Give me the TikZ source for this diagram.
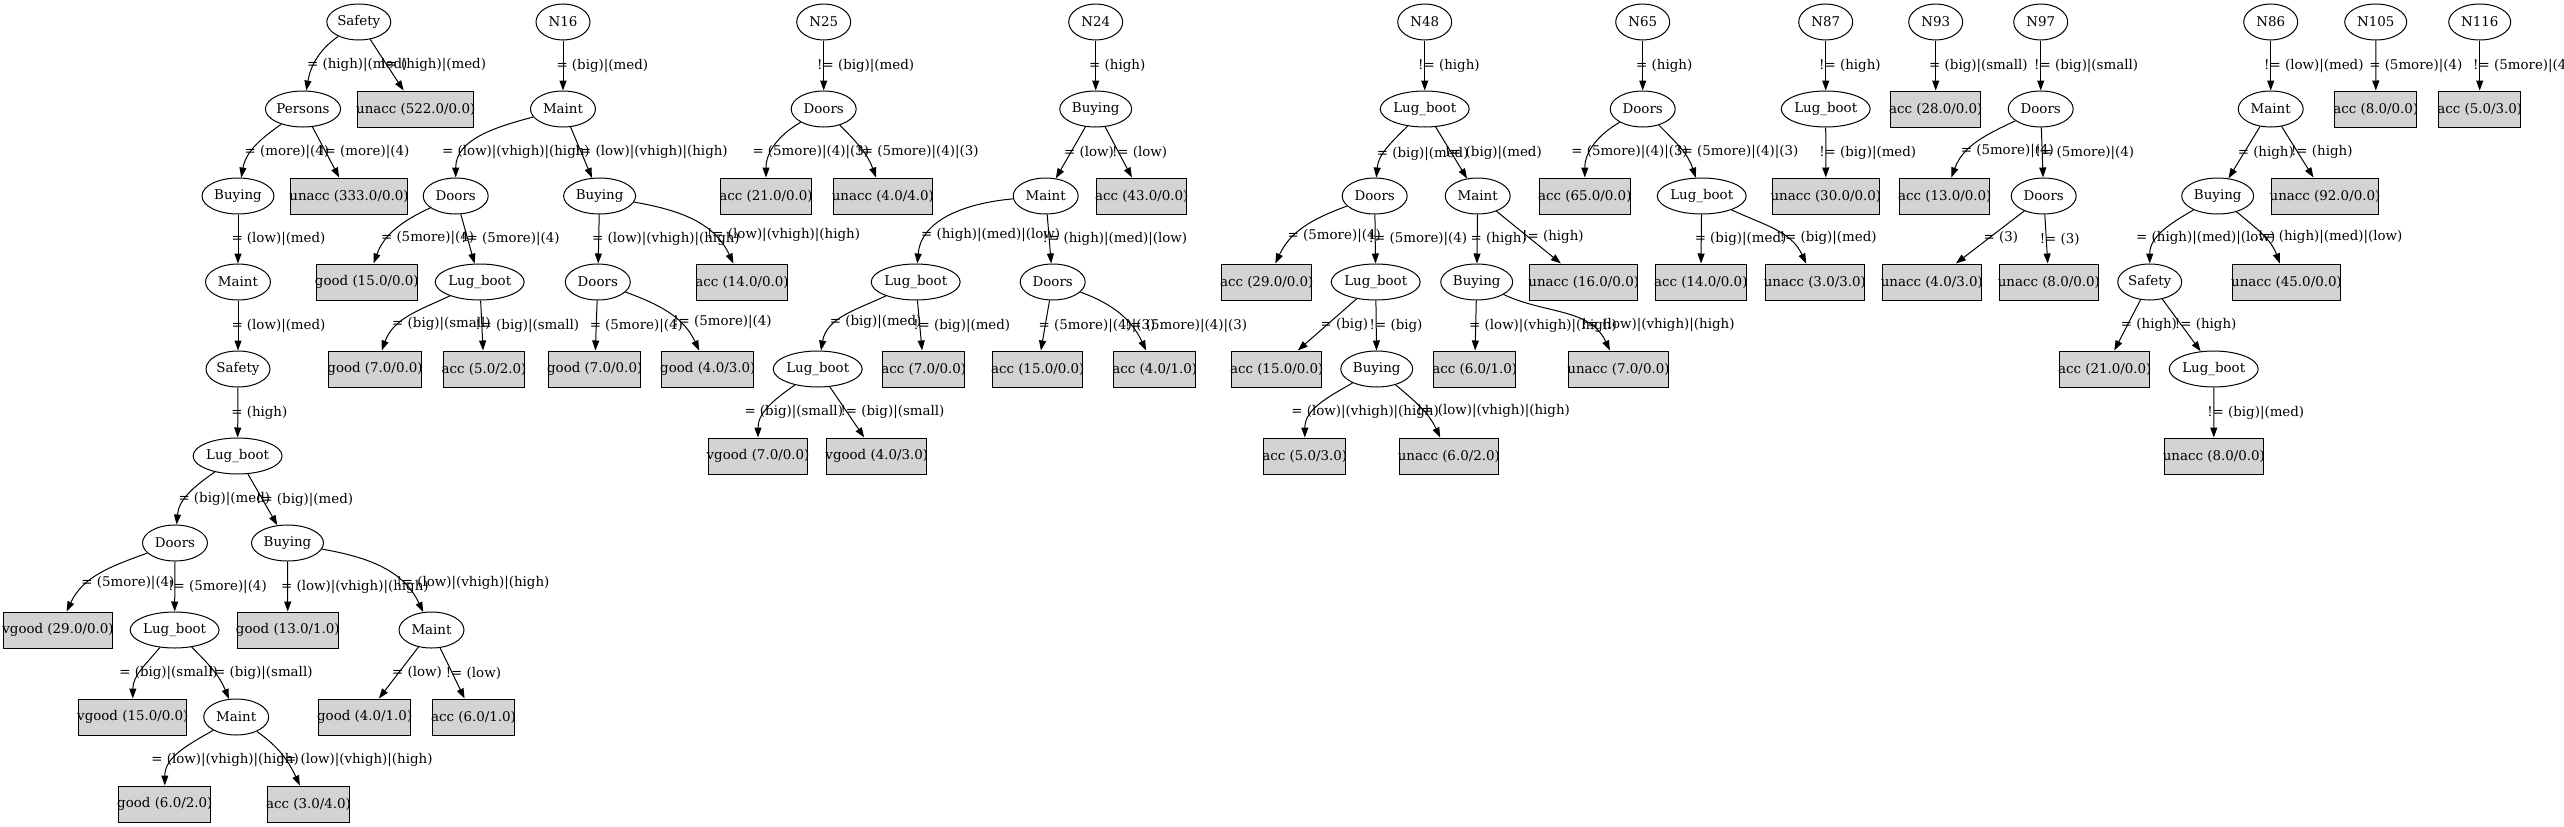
\documentclass[tikz,border=0pt]{standalone}
\usepackage{fontspec}
\setmainfont{DejaVu Serif}
\usetikzlibrary{arrows.meta,shapes.geometric}
\definecolor{cLeaf}{HTML}{D3D3D3}
\tikzset{
  split/.style={ellipse,draw,line width=1pt,inner sep=0pt,
                minimum height=36pt,minimum width=#1},
  split/.default=65pt,
  leaf/.style={rectangle,draw,line width=1pt,fill=cLeaf,
               inner xsep=-1.5pt,inner ysep=0pt,minimum height=36pt},
  branch/.style={-{Triangle[length=10pt,width=7pt]},line width=1pt},
  cond/.style={anchor=west,inner sep=0pt,xshift=-7pt},
  endcond/.style={cond,pos=1,yshift=25.5pt,xshift=-7pt},
}

\begin{document}
\begin{tikzpicture}[x=1pt,y=1pt,font=\fontsize{13.4pt}{16pt}\selectfont]
  \path[use as bounding box,fill=white] (0,0) rectangle (2564,-827);

  % tree rooted at Safety
  \node[split=64pt] (a0) at (358.8,-22) {Safety};
  \node[split=75pt] (a1) at (303,-109) {Persons};
  \node[leaf] (a1u) at (415.7,-109) {unacc (522.0/0.0)};
  \node[split=72pt] (a2) at (238,-196) {Buying};
  \node[leaf] (a2u) at (349,-196) {unacc (333.0/0.0)};
  \node[split] (a3) at (238,-282) {Maint};
  \node[split=64pt] (a4) at (238,-369) {Safety};
  \node[split=88pt] (a5) at (237.6,-456) {Lug\_boot};
  \node[split] (a6) at (175,-543) {Doors};
  \node[split=72pt] (a6b) at (287.5,-543) {Buying};
  \node[leaf] (a7v) at (58,-630) {vgood (29.0/0.0)};
  \node[split=88pt] (a7) at (174.6,-630) {Lug\_boot};
  \node[leaf] (a7g) at (287.8,-630) {good (13.0/1.0)};
  \node[split] (a7m) at (431.5,-630) {Maint};
  \node[leaf] (a8v) at (132.8,-717) {vgood (15.0/0.0)};
  \node[split] (a8) at (236.2,-717) {Maint};
  \node[leaf] (a8g) at (364.7,-717) {good (4.0/1.0)};
  \node[leaf] (a8a) at (473.5,-717) {acc (6.0/1.0)};
  \node[leaf] (a9g) at (164.8,-804) {good (6.0/2.0)};
  \node[leaf] (a9a) at (308.5,-804) {acc (3.0/4.0)};

  \draw[branch] (a0) to[out=-145,in=80] node[cond,pos=.6]{= (high)|(med)} (a1);
  \draw[branch] (a0) -- node[cond]{!= (high)|(med)} (a1u);
  \draw[branch] (a1) to[out=-145,in=80] node[cond,pos=.6]{= (more)|(4)} (a2);
  \draw[branch] (a1) -- node[cond]{!= (more)|(4)} (a2u);
  \draw[branch] (a2) -- node[cond]{= (low)|(med)} (a3);
  \draw[branch] (a3) -- node[cond]{= (low)|(med)} (a4);
  \draw[branch] (a4) -- node[cond]{= (high)} (a5);
  \draw[branch] (a5) to[out=-145,in=85] node[cond,pos=.6]{= (big)|(med)} (a6);
  \draw[branch] (a5) -- node[cond]{!= (big)|(med)} (a6b);
  \draw[branch] (a6) to[out=-160,in=65] node[cond,pos=.65]{= (5more)|(4)} (a7v);
  \draw[branch] (a6) -- node[cond]{!= (5more)|(4)} (a7);
  \draw[branch] (a6b) -- node[cond]{= (low)|(vhigh)|(high)} (a7g);
  \draw[branch] (a6b) to[out=-10,in=115] node[cond,pos=.72]{!= (low)|(vhigh)|(high)} (a7m);
  \draw[branch] (a7) to[out=-130,in=90] node[endcond]{= (big)|(small)} (a8v);
  \draw[branch] (a7) to[out=-45,in=112] node[cond,pos=.55]{!= (big)|(small)} (a8);
  \draw[branch] (a7m) -- node[cond]{= (low)} (a8g);
  \draw[branch] (a7m) -- node[cond]{!= (low)} (a8a);
  \draw[branch] (a8) to[out=-150,in=90] node[endcond]{= (low)|(vhigh)|(high)} (a9g);
  \draw[branch] (a8) to[out=-35,in=115] node[cond,pos=.6]{!= (low)|(vhigh)|(high)} (a9a);

  % N16
  \node[split=54pt] (b0) at (563,-22) {N16};
  \node[split] (b1) at (563,-109) {Maint};
  \node[split] (b2) at (455.7,-196) {Doors};
  \node[split=72pt] (b2b) at (599.6,-196) {Buying};
  \node[leaf] (b3g) at (366.8,-282) {good (15.0/0.0)};
  \node[split=88pt] (b3) at (479.7,-282) {Lug\_boot};
  \node[split] (b3d) at (597.8,-282) {Doors};
  \node[leaf] (b3a) at (742,-282) {acc (14.0/0.0)};
  \node[leaf] (b4g) at (375,-369) {good (7.0/0.0)};
  \node[leaf] (b4a) at (484,-369) {acc (5.0/2.0)};
  \node[leaf] (b4h) at (594.7,-369) {good (7.0/0.0)};
  \node[leaf] (b4k) at (707.8,-369) {good (4.0/3.0)};

  \draw[branch] (b0) -- node[cond]{= (big)|(med)} (b1);
  \draw[branch] (b1) to[out=-165,in=90] node[endcond]{= (low)|(vhigh)|(high)} (b2);
  \draw[branch] (b1) -- node[cond]{!= (low)|(vhigh)|(high)} (b2b);
  \draw[branch] (b2) to[out=-155,in=70] node[cond,pos=.65]{= (5more)|(4)} (b3g);
  \draw[branch] (b2) -- node[cond]{!= (5more)|(4)} (b3);
  \draw[branch] (b2b) -- node[cond]{= (low)|(vhigh)|(high)} (b3d);
  \draw[branch] (b2b) to[out=-10,in=115] node[cond,pos=.72]{!= (low)|(vhigh)|(high)} (b3a);
  \draw[branch] (b3) to[out=-155,in=70] node[cond,pos=.65]{= (big)|(small)} (b4g);
  \draw[branch] (b3) -- node[cond]{!= (big)|(small)} (b4a);
  \draw[branch] (b3d) -- node[cond]{= (5more)|(4)} (b4h);
  \draw[branch] (b3d) to[out=-20,in=115] node[cond,pos=.65]{!= (5more)|(4)} (b4k);

  % N25
  \node[split=54pt] (c0) at (823.7,-22) {N25};
  \node[split] (c1) at (823.7,-109) {Doors};
  \node[leaf] (c2a) at (766,-196) {acc (21.0/0.0)};
  \node[leaf] (c2u) at (882.8,-196) {unacc (4.0/4.0)};

  \draw[branch] (c0) -- node[cond]{!= (big)|(med)} (c1);
  \draw[branch] (c1) to[out=-150,in=90] node[endcond]{= (5more)|(4)|(3)} (c2a);
  \draw[branch] (c1) to[out=-45,in=110] node[cond,pos=.55]{!= (5more)|(4)|(3)} (c2u);

  % N24
  \node[split=54pt] (d0) at (1095.7,-22) {N24};
  \node[split=72pt] (d1) at (1095.7,-109) {Buying};
  \node[split] (d2) at (1045.7,-196) {Maint};
  \node[leaf] (d2a) at (1141.7,-196) {acc (43.0/0.0)};
  \node[split=88pt] (d3) at (915.7,-282) {Lug\_boot};
  \node[split] (d3d) at (1052.7,-282) {Doors};
  \node[split=88pt] (d4) at (817.7,-369) {Lug\_boot};
  \node[leaf] (d4a) at (923.8,-369) {acc (7.0/0.0)};
  \node[leaf] (d4b) at (1037.7,-369) {acc (15.0/0.0)};
  \node[leaf] (d4c) at (1154.7,-369) {acc (4.0/1.0)};
  \node[leaf] (d5v) at (758,-456) {vgood (7.0/0.0)};
  \node[leaf] (d5w) at (876.8,-456) {vgood (4.0/3.0)};

  \draw[branch] (d0) -- node[cond]{= (high)} (d1);
  \draw[branch] (d1) -- node[cond]{= (low)} (d2);
  \draw[branch] (d1) -- node[cond]{!= (low)} (d2a);
  \draw[branch] (d2) to[out=-175,in=85] node[cond,pos=.75]{= (high)|(med)|(low)} (d3);
  \draw[branch] (d2) -- node[cond]{!= (high)|(med)|(low)} (d3d);
  \draw[branch] (d3) to[out=-155,in=80] node[cond,pos=.62]{= (big)|(med)} (d4);
  \draw[branch] (d3) -- node[cond]{!= (big)|(med)} (d4a);
  \draw[branch] (d3d) -- node[cond]{= (5more)|(4)|(3)} (d4b);
  \draw[branch] (d3d) to[out=-20,in=115] node[cond,pos=.7]{!= (5more)|(4)|(3)} (d4c);
  \draw[branch] (d4) to[out=-145,in=90] node[endcond]{= (big)|(small)} (d5v);
  \draw[branch] (d4) -- node[cond]{!= (big)|(small)} (d5w);

  % N48
  \node[split=54pt] (e0) at (1424.7,-22) {N48};
  \node[split=88pt] (e1) at (1424.7,-109) {Lug\_boot};
  \node[split] (e2) at (1374.7,-196) {Doors};
  \node[split] (e2m) at (1477.7,-196) {Maint};
  \node[leaf] (e3a) at (1266.7,-282) {acc (29.0/0.0)};
  \node[split=88pt] (e3) at (1375.7,-282) {Lug\_boot};
  \node[split=72pt] (e3b) at (1476.7,-282) {Buying};
  \node[leaf] (e3u) at (1583.7,-282) {unacc (16.0/0.0)};
  \node[leaf] (e4a) at (1276.7,-369) {acc (15.0/0.0)};
  \node[split=72pt] (e4) at (1376.7,-369) {Buying};
  \node[leaf] (e4b) at (1474.7,-369) {acc (6.0/1.0)};
  \node[leaf] (e4u) at (1618.5,-369) {unacc (7.0/0.0)};
  \node[leaf] (e5a) at (1304.8,-456) {acc (5.0/3.0)};
  \node[leaf] (e5u) at (1448.8,-456) {unacc (6.0/2.0)};

  \draw[branch] (e0) -- node[cond]{!= (high)} (e1);
  \draw[branch] (e1) to[out=-135,in=85] node[cond,pos=.6]{= (big)|(med)} (e2);
  \draw[branch] (e1) -- node[cond]{!= (big)|(med)} (e2m);
  \draw[branch] (e2) to[out=-160,in=65] node[cond,pos=.65]{= (5more)|(4)} (e3a);
  \draw[branch] (e2) -- node[cond]{!= (5more)|(4)} (e3);
  \draw[branch] (e2m) -- node[cond]{= (high)} (e3b);
  \draw[branch] (e2m) -- node[cond]{!= (high)} (e3u);
  \draw[branch] (e3) -- node[cond]{= (big)} (e4a);
  \draw[branch] (e3) -- node[cond]{!= (big)} (e4);
  \draw[branch] (e3b) -- node[cond]{= (low)|(vhigh)|(high)} (e4b);
  \draw[branch] (e3b) to[out=-25,in=115] node[cond,pos=.72]{!= (low)|(vhigh)|(high)} (e4u);
  \draw[branch] (e4) to[out=-150,in=90] node[endcond]{= (low)|(vhigh)|(high)} (e5a);
  \draw[branch] (e4) to[out=-40,in=115] node[cond,pos=.55]{!= (low)|(vhigh)|(high)} (e5u);

  % N65
  \node[split=54pt] (f0) at (1642.7,-22) {N65};
  \node[split] (f1) at (1642.7,-109) {Doors};
  \node[leaf] (f2a) at (1584.8,-196) {acc (65.0/0.0)};
  \node[split=88pt] (f2) at (1701.7,-196) {Lug\_boot};
  \node[leaf] (f3a) at (1700.8,-282) {acc (14.0/0.0)};
  \node[leaf] (f3u) at (1814.8,-282) {unacc (3.0/3.0)};

  \draw[branch] (f0) -- node[cond]{= (high)} (f1);
  \draw[branch] (f1) to[out=-150,in=90] node[endcond]{= (5more)|(4)|(3)} (f2a);
  \draw[branch] (f1) to[out=-45,in=108] node[cond,pos=.55]{!= (5more)|(4)|(3)} (f2);
  \draw[branch] (f2) -- node[cond]{= (big)|(med)} (f3a);
  \draw[branch] (f2) to[out=-25,in=115] node[cond,pos=.65]{!= (big)|(med)} (f3u);

  % N87, N93
  \node[split=54pt] (g0) at (1825.7,-22) {N87};
  \node[split=88pt] (g1) at (1825.7,-109) {Lug\_boot};
  \node[leaf] (g2) at (1825.8,-196) {unacc (30.0/0.0)};
  \node[split=54pt] (h0) at (1935.7,-22) {N93};
  \node[leaf] (h1) at (1935.7,-109) {acc (28.0/0.0)};

  \draw[branch] (g0) -- node[cond]{!= (high)} (g1);
  \draw[branch] (g1) -- node[cond]{!= (big)|(med)} (g2);
  \draw[branch] (h0) -- node[cond]{= (big)|(small)} (h1);

  % N97
  \node[split=54pt] (i0) at (2040.7,-22) {N97};
  \node[split] (i1) at (2040.7,-109) {Doors};
  \node[leaf] (i2a) at (1944.7,-196) {acc (13.0/0.0)};
  \node[split] (i2) at (2043.7,-196) {Doors};
  \node[leaf] (i3u) at (1931.8,-282) {unacc (4.0/3.0)};
  \node[leaf] (i3v) at (2048.8,-282) {unacc (8.0/0.0)};

  \draw[branch] (i0) -- node[cond]{!= (big)|(small)} (i1);
  \draw[branch] (i1) to[out=-155,in=70] node[cond,pos=.65]{= (5more)|(4)} (i2a);
  \draw[branch] (i1) -- node[cond]{!= (5more)|(4)} (i2);
  \draw[branch] (i2) -- node[cond]{= (3)} (i3u);
  \draw[branch] (i2) -- node[cond]{!= (3)} (i3v);

  % N86
  \node[split=54pt] (j0) at (2270.7,-22) {N86};
  \node[split] (j1) at (2270.7,-109) {Maint};
  \node[split=72pt] (j2) at (2217.7,-196) {Buying};
  \node[leaf] (j2u) at (2325,-196) {unacc (92.0/0.0)};
  \node[split=64pt] (j3) at (2149.7,-282) {Safety};
  \node[leaf] (j3u) at (2286.5,-282) {unacc (45.0/0.0)};
  \node[leaf] (j4a) at (2104.7,-369) {acc (21.0/0.0)};
  \node[split=88pt] (j4) at (2213.7,-369) {Lug\_boot};
  \node[leaf] (j5) at (2213.8,-456) {unacc (8.0/0.0)};

  \draw[branch] (j0) -- node[cond]{!= (low)|(med)} (j1);
  \draw[branch] (j1) -- node[cond]{= (high)} (j2);
  \draw[branch] (j1) -- node[cond]{!= (high)} (j2u);
  \draw[branch] (j2) to[out=-150,in=90] node[endcond]{= (high)|(med)|(low)} (j3);
  \draw[branch] (j2) to[out=-40,in=110] node[cond,pos=.55]{!= (high)|(med)|(low)} (j3u);
  \draw[branch] (j3) -- node[cond]{= (high)} (j4a);
  \draw[branch] (j3) -- node[cond]{!= (high)} (j4);
  \draw[branch] (j4) -- node[cond]{!= (big)|(med)} (j5);

  % N105, N116
  \node[split=62pt] (k0) at (2375.7,-22) {N105};
  \node[leaf] (k1) at (2375.8,-109) {acc (8.0/0.0)};
  \node[split=62pt] (l0) at (2479.7,-22) {N116};
  \node[leaf] (l1) at (2479.7,-109) {acc (5.0/3.0)};

  \draw[branch] (k0) -- node[cond]{= (5more)|(4)} (k1);
  \draw[branch] (l0) -- node[cond]{!= (5more)|(4)} (l1);
\end{tikzpicture}
\end{document}
